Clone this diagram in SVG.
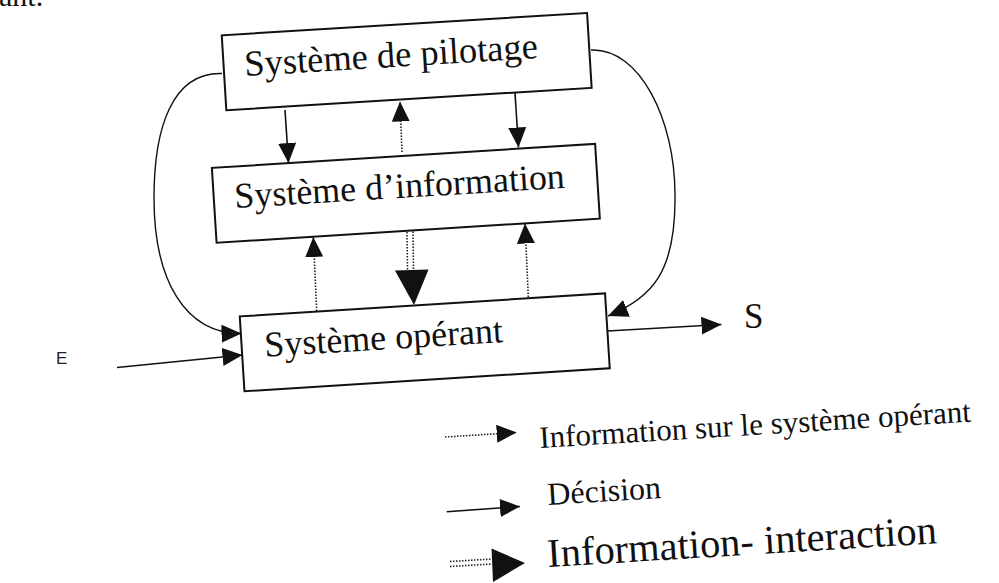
<svg xmlns="http://www.w3.org/2000/svg" width="999" height="583" viewBox="0 0 999 583">
  <style>
    .box { fill: #fff; stroke: #111; stroke-width: 2; }
    .lbl { font-family: "Liberation Serif", "Times New Roman", serif; fill: #111; }
    .solid { fill: none; stroke: #111; stroke-width: 1.6; }
    .dot { fill: none; stroke: #222; stroke-width: 1.6; stroke-dasharray: 1.5 1.5; }
    .curve { fill: none; stroke: #111; stroke-width: 1.4; }
    .head { fill: #111; }
  </style>
  <defs>
    <marker id="tri" viewBox="0 0 20 18" refX="20" refY="9" markerWidth="20" markerHeight="18" markerUnits="userSpaceOnUse" orient="auto">
      <path d="M0,0 L20,9 L0,18 z" fill="#111"/>
    </marker>
  </defs>

  <rect width="999" height="583" fill="#fff"/>

  <!-- tail of the preceding line of text -->
  <text class="lbl" x="-1" y="5.5" font-size="30">ant.</text>

  <!-- connectors -->
  <g id="connectors">
    <!-- pilotage -> information (decisions) -->
    <path class="solid" d="M285,110 L288.5,163" marker-end="url(#tri)"/>
    <path class="solid" d="M515,93 L518.5,147.5" marker-end="url(#tri)"/>
    <!-- information -> pilotage -->
    <path class="dot" d="M402,152 L400,101.5" marker-end="url(#tri)"/>
    <!-- operant -> information -->
    <path class="dot" d="M316.7,311 L313.3,237" marker-end="url(#tri)"/>
    <path class="dot" d="M528.3,297 L525,223.5" marker-end="url(#tri)"/>
    <!-- information <-> operant interaction -->
    <path class="dot" d="M407,232 L407.5,271"/>
    <path class="dot" d="M413,231.5 L413.5,271"/>
    <polygon class="head" points="395,270.5 428.5,269.5 414,305"/>
    <!-- pilotage -> operant, left loop -->
    <path class="curve" d="M222,73.5 C172,72 154,128 154,198 C154,280 185,334 241.5,333.5" marker-end="url(#tri)"/>
    <!-- pilotage -> operant, right loop -->
    <path class="curve" d="M591,50 C640,48 675,120 675,195 C676,272 652,298 608,316" marker-end="url(#tri)"/>
    <!-- input E and output S -->
    <path class="solid" d="M117,367.5 L242.5,355" marker-end="url(#tri)"/>
    <path class="solid" d="M607.5,331 L721.5,324.5" marker-end="url(#tri)"/>
  </g>

  <g id="pilotage">
    <rect class="box" x="223.7" y="24.1" width="366" height="75" transform="rotate(-3.5 406.7 61.6)"/>
    <text class="lbl" x="245" y="76" font-size="36.5" transform="rotate(-3.5 245 76)">Système de pilotage</text>
  </g>

  <g id="information">
    <rect class="box" x="213.85" y="155.8" width="384" height="75" transform="rotate(-3.6 405.85 193.3)"/>
    <text class="lbl" x="235" y="208" font-size="36" transform="rotate(-3.5 235 208)">Système d’information</text>
  </g>

  <g id="operant">
    <rect class="box" x="241.75" y="304.85" width="366" height="75" transform="rotate(-3.6 424.75 342.35)"/>
    <text class="lbl" x="265" y="356.7" font-size="36" transform="rotate(-3.5 265 356.7)">Système opérant</text>
  </g>

  <g id="input-E">
    <text x="56" y="364" font-family="'Liberation Sans', Arial, sans-serif" font-size="17" fill="#222">E</text>
  </g>
  <g id="output-S">
    <text class="lbl" x="744" y="328" font-size="35">S</text>
  </g>

  <!-- legend -->
  <g id="legend">
    <path class="dot" d="M445,437 L516.7,432.5" marker-end="url(#tri)"/>
    <text class="lbl" x="540" y="448" font-size="31" transform="rotate(-3.5 540 448)">Information sur le système opérant</text>

    <path class="solid" d="M446.7,511.7 L520,506.5" marker-end="url(#tri)"/>
    <text class="lbl" x="548" y="505" font-size="32" transform="rotate(-3.5 548 505)">Décision</text>

    <path class="dot" d="M450,561.5 L492,559"/>
    <path class="dot" d="M450,566.5 L492,564"/>
    <polygon class="head" points="491.5,548.5 525,563 493,582"/>
    <text class="lbl" x="548" y="567" font-size="40.5" transform="rotate(-3.5 548 567)">Information- interaction</text>
  </g>
</svg>
